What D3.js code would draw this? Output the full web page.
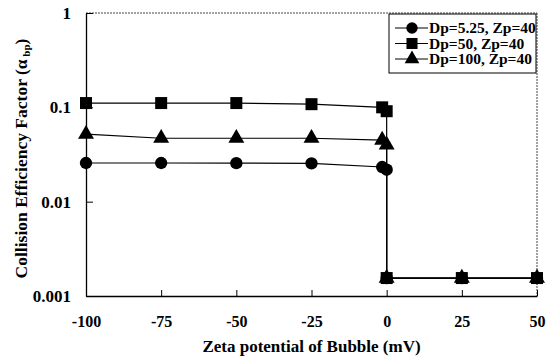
<!DOCTYPE html>
<html>
<head>
<meta charset="utf-8">
<script src="https://cdn.jsdelivr.net/npm/d3@7"></script>
<style>
  body { margin: 0; background: #fff; }
  text { font-family: "Liberation Serif", "Times New Roman", serif; font-weight: bold; fill: #000; }
</style>
</head>
<body>
<svg id="chart" width="555" height="359"></svg>
<script>
// zeta potential of bubble (mV)
var zeta = [-100, -75, -50, -25, -1.5, 0, 0, 25, 50];
var dp525 = [0.0257, 0.0257, 0.0256, 0.0255, 0.0233, 0.0218, 0.00155, 0.00155, 0.00155];
var dp50 = [0.111, 0.111, 0.111, 0.108, 0.100, 0.091, 0.00155, 0.00155, 0.00155];
var dp100 = [0.052, 0.047, 0.047, 0.047, 0.045, 0.040, 0.00155, 0.00155, 0.00155];
var seriesNames = ["Dp=5.25, Zp=40", "Dp=50, Zp=40", "Dp=100, Zp=40"];
var xTicks = [-100, -75, -50, -25, 0, 25, 50];
var yTicks = [0.001, 0.01, 0.1, 1];

var svg = d3.select("#chart");
var pLeft = 86, pRight = 537, pTop = 13, pBottom = 296;

var x = d3.scaleLinear().domain([-100, 50]).range([pLeft, pRight]);
var y = d3.scaleLog().domain([0.001, 1]).range([pBottom, pTop]);

// frame: top and right are faint/dashed in the scan
svg.append("line").attr("x1", pLeft).attr("x2", pRight).attr("y1", pTop).attr("y2", pTop)
  .attr("stroke", "#444").attr("stroke-dasharray", "2,1");
svg.append("line").attr("x1", pRight).attr("x2", pRight).attr("y1", pTop).attr("y2", pBottom)
  .attr("stroke", "#444").attr("stroke-dasharray", "2,1");

// axes with inward ticks
var xAxis = svg.append("g").attr("transform", "translate(0," + pBottom + ")")
  .call(d3.axisBottom(x).tickValues(xTicks).tickFormat(function(d){ return String(d); })
    .tickSize(-6).tickPadding(20).tickSizeOuter(0));
var yAxis = svg.append("g").attr("transform", "translate(" + pLeft + ",0)")
  .call(d3.axisLeft(y).tickValues(yTicks).tickFormat(function(d){ return String(d); })
    .tickSize(-7).tickPadding(15).tickSizeOuter(0));
[xAxis, yAxis].forEach(function(a){
  a.select(".domain").attr("stroke", "#000").attr("stroke-width", 1.3);
  a.selectAll(".tick line").attr("stroke", "#000");
  a.selectAll("text").attr("font-family", "Liberation Serif").attr("font-weight", "bold").attr("fill", "#000");
});
xAxis.selectAll("text").attr("font-size", 16);
yAxis.selectAll("text").attr("font-size", 17);

// titles
svg.append("text").attr("x", (pLeft + pRight) / 2).attr("y", 352).attr("text-anchor", "middle")
  .attr("font-size", 17).text("Zeta potential of Bubble (mV)");
var yt = svg.append("text").attr("transform", "translate(27," + ((pTop + pBottom) / 2 + 4) + ") rotate(-90)")
  .attr("text-anchor", "middle").attr("font-size", 17.5);
yt.append("tspan").text("Collision Efficiency Factor (\u03B1");
yt.append("tspan").attr("font-size", 11).attr("dy", 3).text(" bp");
yt.append("tspan").attr("dy", -3).text(")");

// data series
var data = [dp525, dp50, dp100];
var shapes = [d3.symbolCircle, d3.symbolSquare, d3.symbolTriangle];
var sizes = [120, 144, 110];
var line = d3.line().x(function(d){ return x(d[0]); }).y(function(d){ return y(d[1]); });

data.forEach(function(vals, i){
  var pts = zeta.map(function(z, j){ return [z, vals[j]]; });
  svg.append("path").datum(pts).attr("d", line)
    .attr("fill", "none").attr("stroke", "#000").attr("stroke-width", 1.2);
});
data.forEach(function(vals, i){
  var pts = zeta.map(function(z, j){ return [z, vals[j]]; });
  svg.append("g").selectAll("path").data(pts).join("path")
    .attr("transform", function(d){ return "translate(" + x(d[0]) + "," + y(d[1]) + ")"; })
    .attr("d", d3.symbol().type(shapes[i]).size(sizes[i]))
    .attr("fill", "#000");
});

// legend
var lg = svg.append("g");
lg.append("rect").attr("x", 389).attr("y", 14).attr("width", 147).attr("height", 59)
  .attr("fill", "#fff").attr("stroke", "#000").attr("stroke-width", 1);
seriesNames.forEach(function(name, i){
  var ly = 28 + i * 15.5;
  lg.append("line").attr("x1", 395).attr("x2", 428).attr("y1", ly).attr("y2", ly)
    .attr("stroke", "#000").attr("stroke-width", 1.2);
  lg.append("path").attr("transform", "translate(412," + ly + ")")
    .attr("d", d3.symbol().type(shapes[i]).size(sizes[i] * 0.85)).attr("fill", "#000");
  lg.append("text").attr("x", 429).attr("y", ly + 5).attr("font-size", 15.5).text(name);
});
</script>
</body>
</html>
